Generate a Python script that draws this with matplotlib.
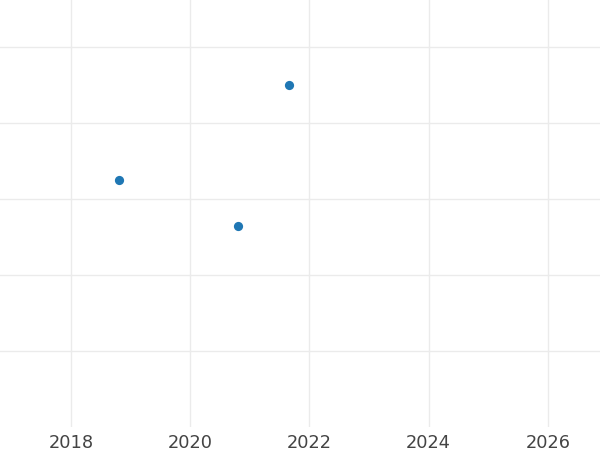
import pandas as pd
import matplotlib
matplotlib.use("Agg")
import matplotlib.pyplot as plt
import matplotlib.dates as mdates

# ── Data ──────────────────────────────────────────────────────────────────────
dates = pd.to_datetime(["2018-10-23", "2020-10-19", "2021-08-29"])
values = [3.25, 2.645, 4.5]

x_range = pd.to_datetime(["2016-10-23", "2026-11-17"])
y_range = (0, 5.62)
y_grid = [1, 2, 3, 4, 5]

GRID = "#ebebeb"
DOT = "#1f77b4"
TXT = "#444444"

fig = plt.figure(figsize=(6, 4.5), dpi=100, facecolor="white")
ax = fig.add_axes([0, 1 - 427 / 450, 1, 427 / 450])
ax.set_facecolor("white")

ax.scatter(dates, values, s=44, color=DOT, zorder=3, linewidths=0)

ax.set_xlim(x_range[0], x_range[1])
ax.set_ylim(*y_range)
ax.xaxis.set_major_locator(mdates.YearLocator(2))
ax.xaxis.set_major_formatter(mdates.DateFormatter("%Y"))
ax.set_yticks(y_grid)
ax.set_yticklabels([])

ax.grid(True, color=GRID, lw=1.0)
ax.set_axisbelow(True)
ax.tick_params(axis="both", length=0)
ax.tick_params(axis="x", labelsize=12.8, labelcolor=TXT, pad=5)
for s in ax.spines.values():
    s.set_visible(False)

fig.savefig("out.png", dpi=100, facecolor="white")
